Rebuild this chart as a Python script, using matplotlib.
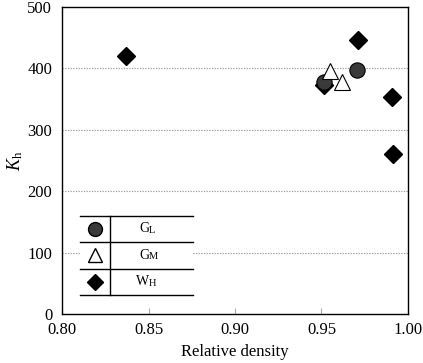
import matplotlib
matplotlib.use("Agg")
import matplotlib.pyplot as plt
from matplotlib.patches import Rectangle
from matplotlib.lines import Line2D

plt.rcParams['font.family'] = ['Liberation Serif', 'DejaVu Serif']
plt.rcParams['mathtext.fontset'] = 'custom'
plt.rcParams['mathtext.rm'] = 'Liberation Serif'
plt.rcParams['mathtext.it'] = 'Liberation Serif:italic'

# Data
gl_x = [0.9515, 0.9705]
gl_y = [378, 397]
gm_x = [0.955, 0.962]
gm_y = [396, 378]
wh_x = [0.837, 0.9515, 0.971, 0.9905, 0.9915]
wh_y = [420, 373, 446, 353, 261]

series_names = [("G", "L"), ("G", "M"), ("W", "H")]
xticks = [0.80, 0.85, 0.90, 0.95, 1.00]
yticks = [0, 100, 200, 300, 400, 500]

fig = plt.figure(figsize=(4.23, 3.63), dpi=100)
ax = fig.add_axes([0.1466, 0.135, 0.8179, 0.8457])
ax.set_xlim(0.80, 1.00)
ax.set_ylim(0, 500)
ax.set_xticks(xticks)
ax.set_xticklabels([f"{v:.2f}" for v in xticks])
ax.set_yticks(yticks)
ax.tick_params(axis='x', direction='in', length=4, labelsize=12, width=0.8,
               color='#aaaaaa', pad=6)
ax.tick_params(axis='y', direction='in', length=0, labelsize=12, pad=7)
for y in [100, 200, 300, 400]:
    ax.axhline(y, color='#a0a0a0', linestyle=(0, (1.2, 1.2)), linewidth=0.8, zorder=0)
for s in ax.spines.values():
    s.set_linewidth(1.0)

ax.plot(wh_x, wh_y, 'D', color='black', markersize=9.5, zorder=3)
ax.plot(gl_x, gl_y, 'o', markerfacecolor='#3a3a3a', markeredgecolor='black',
        markersize=11, markeredgewidth=0.8, zorder=4)
ax.plot(gm_x, gm_y, '^', markerfacecolor='white', markeredgecolor='black',
        markersize=11, markeredgewidth=0.8, zorder=5)

ax.set_xlabel("Relative density", fontsize=12, labelpad=4)
ax.set_ylabel(r"$K_{\mathrm{h}}$", fontsize=13, labelpad=2)

# Legend table in axes coords (pixel estimates converted)
def px2ax(px, py):
    return ((px - 62) / 346.0, (314 - py) / 307.0)

x0, _ = px2ax(80, 0)
x1, _ = px2ax(193, 0)
xv, _ = px2ax(110, 0)
xm, _ = px2ax(95, 0)
xt, _ = px2ax(149, 0)
rows = [216, 242, 269, 295]
ys = [px2ax(0, r)[1] for r in rows]
ax.add_patch(Rectangle((x0, ys[-1]), x1 - x0, ys[0] - ys[-1], transform=ax.transAxes,
                       facecolor='white', edgecolor='none', zorder=6))
for yy in ys:
    ax.add_line(Line2D([x0, x1], [yy, yy], transform=ax.transAxes, color='black',
                       linewidth=1.0, zorder=7))
ax.add_line(Line2D([xv, xv], [ys[0], ys[-1]], transform=ax.transAxes, color='black',
                   linewidth=1.0, zorder=7))
styles = [dict(marker='o', markerfacecolor='#3a3a3a', markeredgecolor='black', markersize=10),
          dict(marker='^', markerfacecolor='white', markeredgecolor='black', markersize=10),
          dict(marker='D', markerfacecolor='black', markeredgecolor='black', markersize=8.5)]
for i, (st, (a, b)) in enumerate(zip(styles, series_names)):
    yc = (ys[i] + ys[i + 1]) / 2
    ax.add_line(Line2D([xm], [yc], transform=ax.transAxes, linestyle='none', zorder=8, **st))
    ax.text(xt, yc, a, transform=ax.transAxes, fontsize=10, ha='right', va='center', zorder=8)
    ax.text(xt, yc - 0.004, b, transform=ax.transAxes, fontsize=7.5, ha='left', va='center', zorder=8)

fig.savefig("out.png", dpi=100)
